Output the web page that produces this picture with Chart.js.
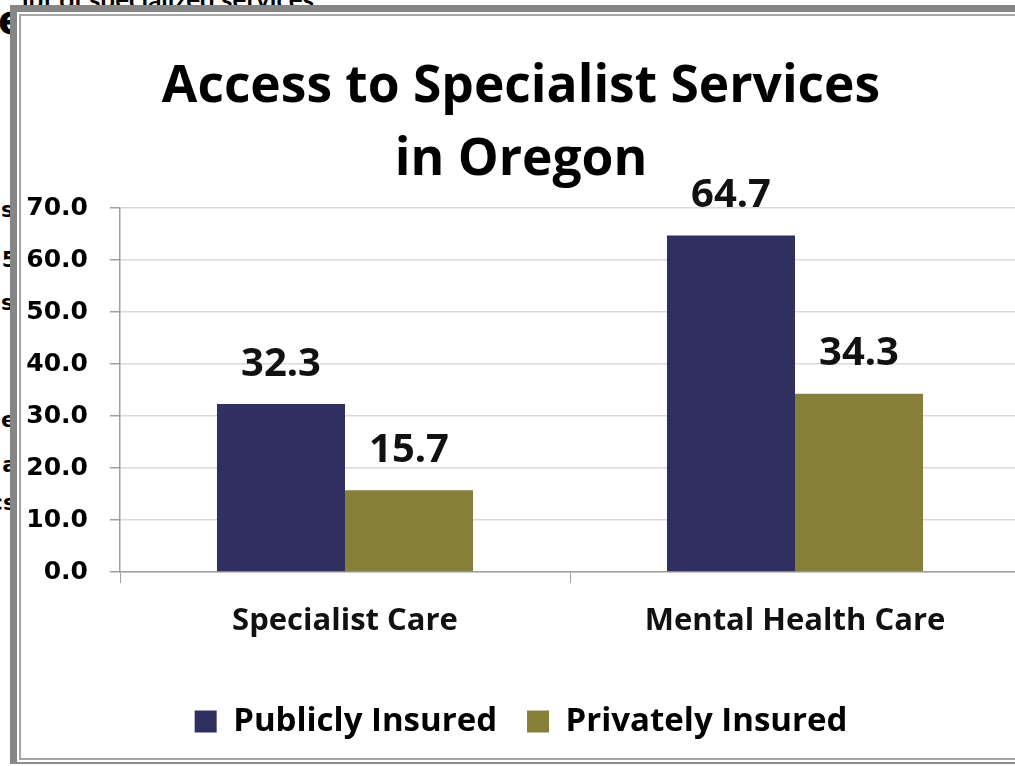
<!DOCTYPE html>
<html>
<head>
<meta charset="utf-8">
<script src="https://cdn.jsdelivr.net/npm/chart.js@4/dist/chart.umd.min.js"></script>
<style>
  html, body { margin: 0; padding: 0; width: 1015px; height: 766px; overflow: hidden; background: #fff; }
  body { position: relative; }
  .bgtext { position: absolute; font-family: "DejaVu Sans", sans-serif; font-weight: bold; color: #000; white-space: nowrap; }
  #panel { position: absolute; left: 10px; top: 5px; width: 1100px; height: 750px; background: #fff;
           border-top: 7px solid #868686; border-left: 7px solid #868686; border-bottom: 2px solid #8c8c8c; }
  #inner { position: absolute; left: 2px; top: 2px; right: -10px; bottom: 2px;
           border-top: 2px solid #a6a6a6; border-left: 2px solid #a6a6a6; border-bottom: 2px solid #a6a6a6; }
  #chart { position: absolute; left: 22px; top: 18px; }
</style>
</head>
<body>
<div class="bgtext" style="left:-2px; top:-3px; font-size:40px;">e</div>
<div class="bgtext" style="left:22px; top:-17px; font-size:26px; font-family:Lato, sans-serif;">ipt of specialized services</div>
<div class="bgtext" style="right:1001px; top:197px; font-size:22px;">is</div>
<div class="bgtext" style="right:998px; top:247px; font-size:22px;">83.5</div>
<div class="bgtext" style="right:1001px; top:290px; font-size:22px;">ss</div>
<div class="bgtext" style="right:999px; top:407px; font-size:22px;">le</div>
<div class="bgtext" style="right:998px; top:452px; font-size:22px;">a</div>
<div class="bgtext" style="right:999px; top:490px; font-size:22px;">cs</div>
<div id="panel"><div id="inner"></div></div>
<canvas id="chart" width="1018" height="738"></canvas>
<script>
const titleLines = ['Access to Specialist Services', 'in Oregon'];
const categories = ['Specialist Care', 'Mental Health Care'];
const seriesNames = ['Publicly Insured', 'Privately Insured'];
const publiclyInsured = [32.3, 64.7];
const privatelyInsured = [15.7, 34.3];
const seriesColors = ['#303060', '#857f3a'];
const yMin = 0, yMax = 70, yStep = 10;

const valueLabels = {
  id: 'valueLabels',
  afterDatasetsDraw(chart) {
    const ctx = chart.ctx;
    ctx.save();
    ctx.font = 'bold 40px "Noto Sans", sans-serif';
    ctx.fillStyle = '#111';
    ctx.textAlign = 'center';
    ctx.textBaseline = 'alphabetic';
    chart.data.datasets.forEach((ds, i) => {
      const meta = chart.getDatasetMeta(i);
      meta.data.forEach((el, j) => {
        ctx.fillText(ds.data[j].toFixed(1), el.x, el.y - 28.5);
      });
    });
    ctx.restore();
  }
};

new Chart(document.getElementById('chart'), {
  type: 'bar',
  data: {
    labels: categories,
    datasets: [
      { label: seriesNames[0], data: publiclyInsured, backgroundColor: seriesColors[0] },
      { label: seriesNames[1], data: privatelyInsured, backgroundColor: seriesColors[1] }
    ]
  },
  options: {
    responsive: false,
    devicePixelRatio: 1,
    animation: false,
    categoryPercentage: 0.569,
    barPercentage: 1.0,
    layout: { padding: { left: 0, right: 20, top: 0, bottom: 8 } },
    plugins: {
      title: {
        display: true,
        text: titleLines,
        color: '#000',
        font: { family: '"Open Sans", sans-serif', weight: 'bold', size: 51.5, lineHeight: 73 / 51.5 },
        padding: { top: 33, bottom: 11 }
      },
      legend: {
        display: true,
        position: 'bottom',
        labels: {
          color: '#000',
          font: { family: '"Open Sans", sans-serif', weight: 'bold', size: 33 },
          boxWidth: 22,
          boxHeight: 22,
          padding: 30
        }
      },
      tooltip: { enabled: false }
    },
    scales: {
      x: {
        afterFit(scale) { scale.height = 103; },
        grid: { display: true, drawOnChartArea: false, tickLength: 11, tickColor: '#a0a0a0', color: '#a0a0a0' },
        border: { display: true, color: '#a0a0a0', width: 1.5 },
        ticks: {
          color: '#111',
          padding: 20,
          font: { family: '"Open Sans", sans-serif', weight: 'bold', size: 31 }
        }
      },
      y: {
        min: yMin,
        max: yMax,
        afterFit(scale) { scale.width = 98; },
        grid: { color: '#d9d9d9', lineWidth: 1.5, tickLength: 10, tickColor: '#a0a0a0' },
        border: { display: true, color: '#a0a0a0', width: 1.5 },
        ticks: {
          stepSize: yStep,
          color: '#000',
          padding: 22,
          font: { family: '"DejaVu Sans", sans-serif', weight: 'bold', size: 25 },
          callback: (v) => Number(v).toFixed(1)
        }
      }
    }
  },
  plugins: [valueLabels]
});
</script>
</body>
</html>
